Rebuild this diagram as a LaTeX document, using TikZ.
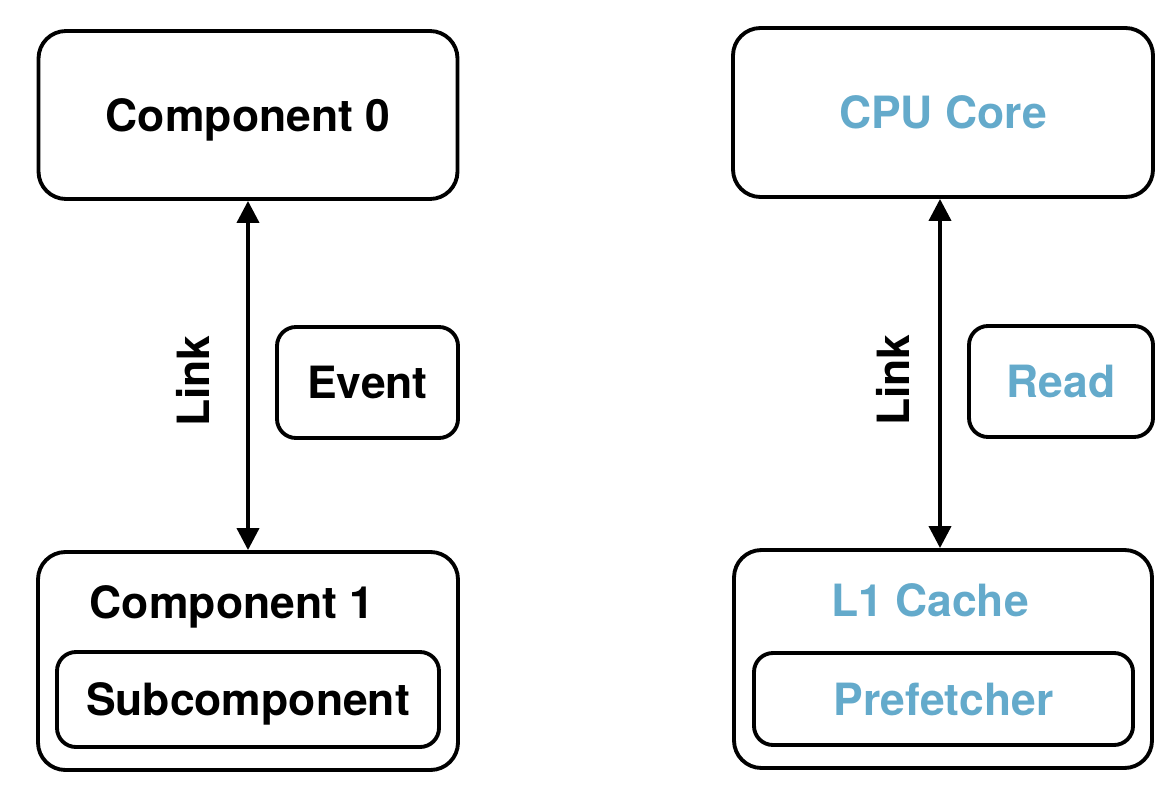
\documentclass[tikz,border=0pt]{standalone}
\usepackage{fontspec}
\setmainfont{TeX Gyre Heros}
\usepackage{tikz}
\usetikzlibrary{arrows.meta}
\definecolor{coreblue}{RGB}{100,170,203}

\begin{document}
\begin{tikzpicture}[
		font=\fontsize{25.3}{30}\selectfont\bfseries,
		every node/.style={text depth=0pt},
		bigbox/.style={draw, line width=2.2pt, rounded corners=0.55cm, inner sep=0pt},
		smallbox/.style={draw, line width=2.2pt, rounded corners=0.38cm, inner sep=0pt},
		linkarrow/.style={line width=2.2pt, {Triangle[length=0.44cm,width=0.44cm]}-{Triangle[length=0.44cm,width=0.44cm]}}
		]
		\useasboundingbox (0,0) rectangle (23.48,16.04);
		
		\node[bigbox, minimum width=8.38cm, minimum height=3.36cm] (comp0) at (4.96,13.74){Component 0};
		
		\node[bigbox, minimum width=8.4cm, minimum height=4.36cm] (comp1) at (4.96,2.82){};
		\node (comp1title) at (4.64,4.0){Component 1};
		\node[smallbox, minimum width=7.64cm, minimum height=1.9cm] (subcomp) at (4.96,2.05){Subcomponent};
		
		\node[smallbox, minimum width=3.62cm, minimum height=2.22cm] (event) at (7.35,8.39){Event};
		\node[rotate=90] (linkleft) at (3.86,8.42){Link};
		
		\draw[linkarrow] (comp0.south) -- (comp1.north);
		
		\node[bigbox, minimum width=8.4cm, minimum height=3.38cm, text=coreblue] (cpu) at (18.86,13.79){CPU Core};
		
		\node[bigbox, minimum width=8.36cm, minimum height=4.36cm] (lone) at (18.86,2.86){};
		\node[text=coreblue] (lonetitle) at (18.6,4.04){L1 Cache};
		\node[smallbox, minimum width=7.58cm, minimum height=1.84cm, text=coreblue] (prefetch) at (18.87,2.06){Prefetcher};
		
		\node[smallbox, minimum width=3.68cm, minimum height=2.22cm, text=coreblue] (read) at (21.22,8.41){Read};
		\node[rotate=90] (linkright) at (17.86,8.44){Link};
		
		\draw[linkarrow] ([xshift=-0.06cm]cpu.south) -- ([xshift=-0.06cm]lone.north);
		
\end{tikzpicture}
\end{document}
